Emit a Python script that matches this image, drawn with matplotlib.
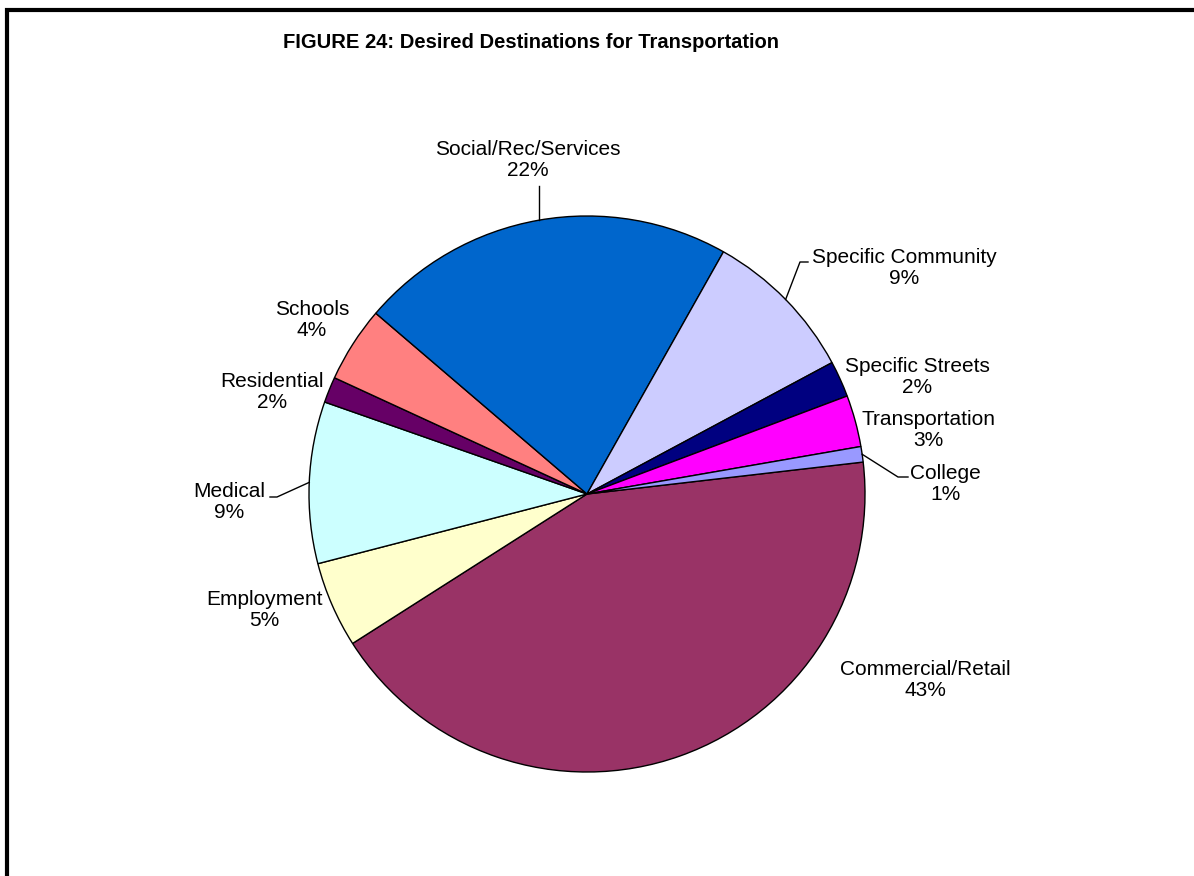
import numpy as np
import matplotlib
matplotlib.use("Agg")
import matplotlib.pyplot as plt

plt.rcParams['font.family'] = ['Liberation Sans', 'DejaVu Sans']

# Destination shares (percent), in clockwise drawing order
categories = ["Commercial/Retail", "Employment", "Medical", "Residential", "Schools",
              "Social/Rec/Services", "Specific Community", "Specific Streets",
              "Transportation", "College"]
shares = [42.8, 5.0, 9.4, 1.5, 4.4, 21.9, 9.0, 2.1, 3.0, 0.9]
slice_colors = ["#993366", "#FFFFCC", "#CCFFFF", "#660066", "#FF8080",
                "#0066CC", "#CCCCFF", "#000080", "#FF00FF", "#9999FF"]

W, H = 1194, 876
fig = plt.figure(figsize=(W / 100, H / 100), dpi=100)
ax = fig.add_axes([0, 0, 1, 1])


def Y(y):
    # canvas rows are counted from the top
    return H - y


cx, cy, R = 587, Y(494), 278
wedges, _ = ax.pie(shares, colors=slice_colors, startangle=6.6, counterclock=False,
                   center=(cx, cy), radius=R, frame=True,
                   wedgeprops=dict(edgecolor="black", linewidth=1.0))
ax.set_xlim(0, W)
ax.set_ylim(0, H)
ax.set_aspect("equal")
ax.axis("off")

# label block centres
label_pos = {
    "Commercial/Retail": (925, 680),
    "Employment": (264, 610),
    "Medical": (229, 502),
    "Residential": (272, 392),
    "Schools": (312, 320),
    "Social/Rec/Services": (528, 160),
    "Specific Community": (904, 268),
    "Specific Streets": (917, 377),
    "Transportation": (928, 430),
    "College": (945, 484),
}
# leader lines: elbow and end point for labels placed away from their slice
leaders = {
    "Social/Rec/Services": [(None, 186)],
    "Specific Community": [(800, 262), (808, 262)],
    "College": [(898, 477), (908, 477)],
    "Medical": [(277, 497), (270, 497)],
}

for w, name, v in zip(wedges, categories, shares):
    lx, ly = label_pos[name]
    ax.text(lx, Y(ly), f"{name}\n{v:.0f}%", ha="center", va="center",
            fontsize=15, color="black", linespacing=1.15)
    if name in leaders:
        mid = np.deg2rad((w.theta1 + w.theta2) / 2)
        sx, sy = cx + R * np.cos(mid), cy + R * np.sin(mid)
        xs, ys = [sx], [sy]
        for px, py in leaders[name]:
            xs.append(sx if px is None else px)
            ys.append(Y(py))
        ax.plot(xs, ys, color="black", linewidth=1.0)

ax.text(531, Y(42), "FIGURE 24: Desired Destinations for Transportation",
        ha="center", va="center", fontsize=14.5, fontweight="bold", color="black")

# outer border (open to the right and bottom)
ax.plot([6.5, 6.5, W + 5], [-5, Y(9.5), Y(9.5)], color="black", linewidth=3,
        solid_joinstyle="miter", clip_on=False)

fig.savefig("out.png", dpi=100, facecolor="white")
